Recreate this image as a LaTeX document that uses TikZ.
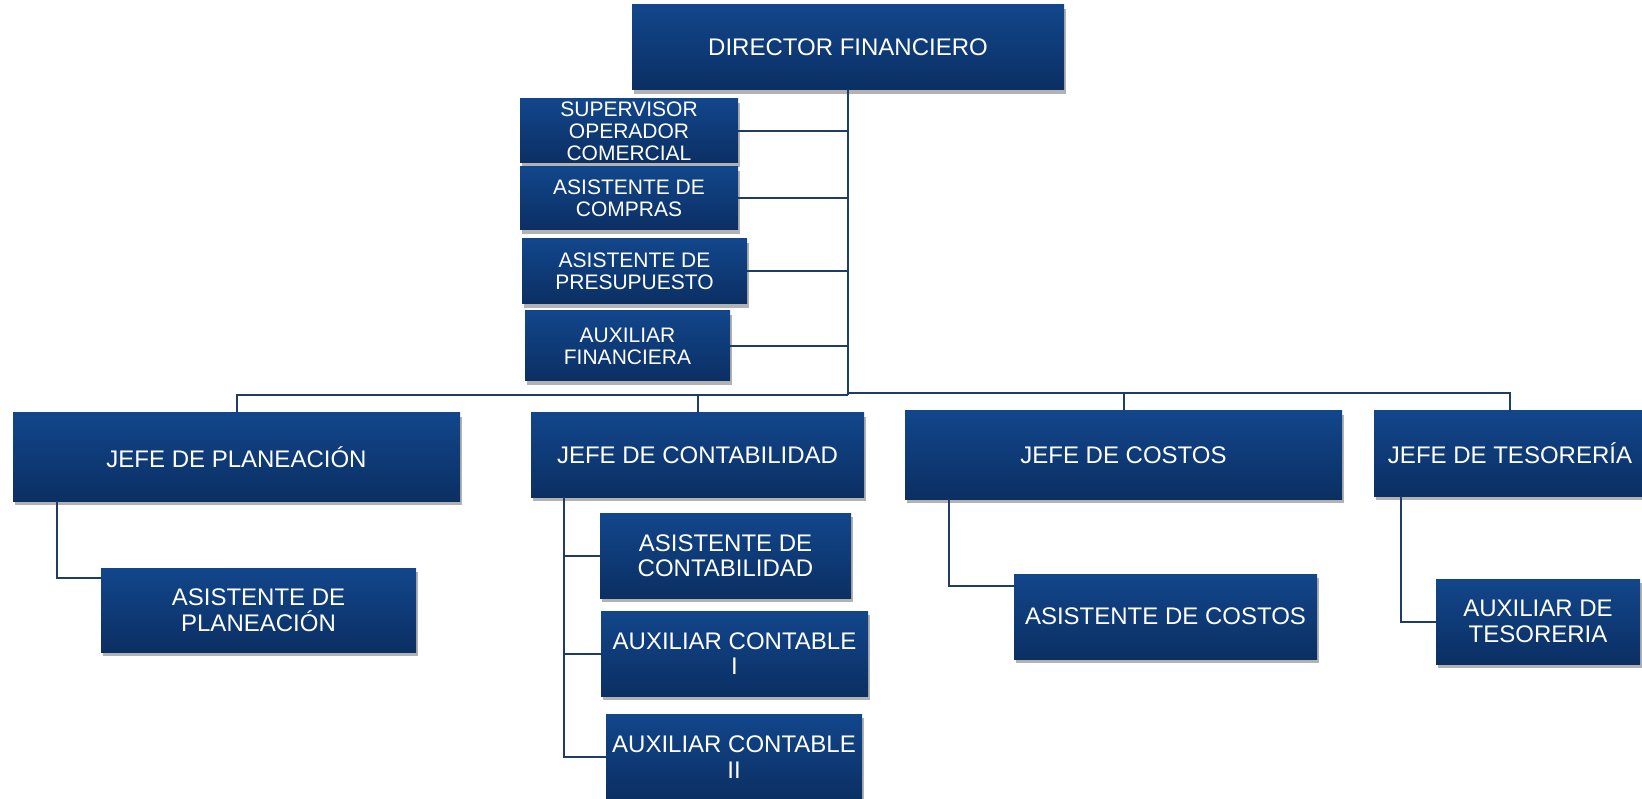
\documentclass[tikz,border=0pt]{standalone}
\usepackage{fontspec}
\setmainfont{Liberation Sans}
\usepackage{tikz}
\usetikzlibrary{calc,shadows}

\definecolor{boxtop}{RGB}{18,70,139}
\definecolor{boxbot}{RGB}{11,47,99}
\definecolor{linkblue}{RGB}{31,59,104}

\begin{document}
\begin{tikzpicture}[x=1pt,y=-1pt]
    \tikzset{box/.style = {shape=rectangle, inner sep=0pt, align=center,
        top color=boxtop, bottom color=boxbot, text=white,
        font=\fontsize{24pt}{25.5pt}\selectfont,
        drop shadow={shadow xshift=2pt, shadow yshift=-4pt, opacity=0.3, fill=black}}}
    \tikzset{small/.style = {font=\fontsize{21pt}{22pt}\selectfont}}
    \tikzset{link/.style = {draw=linkblue, line width=2pt}}
    \useasboundingbox (0,0) rectangle (1642,799);
    % vertices
    \node[box, minimum width=432pt, minimum height=85pt] (dir) at (848,47.5) {DIRECTOR FINANCIERO};
    \node[box, small, minimum width=218pt, minimum height=64pt] (sup) at (629,131)
        {\fontsize{21pt}{20.8pt}\selectfont SUPERVISOR\\OPERADOR\\COMERCIAL};
    \node[box, small, minimum width=218pt, minimum height=63pt] (comp) at (629,198.5) {ASISTENTE DE\\COMPRAS};
    \node[box, small, minimum width=225pt, minimum height=65pt] (pres) at (634.5,271.5) {ASISTENTE DE\\PRESUPUESTO};
    \node[box, small, minimum width=205pt, minimum height=70pt] (auxfin) at (627.5,346) {AUXILIAR\\FINANCIERA};
    \node[box, minimum width=447pt, minimum height=88pt] (jplan) at (236.5,457) {JEFE DE PLANEACIÓN};
    \node[box, minimum width=315pt, minimum height=84pt] (aplan) at (258.5,610) {ASISTENTE DE\\PLANEACIÓN};
    \node[box, minimum width=333pt, minimum height=84pt] (jcont) at (697.5,455) {JEFE DE CONTABILIDAD};
    \node[box, minimum width=251pt, minimum height=85pt] (acont) at (725.5,555.5) {ASISTENTE DE\\CONTABILIDAD};
    \node[box, minimum width=267pt, minimum height=85pt] (aux1) at (734.5,653.5) {AUXILIAR CONTABLE\\I};
    \node[box, minimum width=256pt, minimum height=86pt] (aux2) at (734,757) {AUXILIAR CONTABLE\\II};
    \node[box, minimum width=437pt, minimum height=88pt] (jcos) at (1123.5,455) {JEFE DE COSTOS};
    \node[box, minimum width=303pt, minimum height=85pt] (acos) at (1165.5,616.5) {ASISTENTE DE COSTOS};
    \node[box, minimum width=272pt, minimum height=85pt] (jtes) at (1510,453.5) {JEFE DE TESORERÍA};
    \node[box, minimum width=204pt, minimum height=85pt] (ates) at (1538,621.5) {AUXILIAR DE\\TESORERIA};
    % joints
    \coordinate (hub) at (848,395.5);
    \coordinate (hubR) at (848,393.5);
    \coordinate (cv) at ($(jcont.south west)+(33,0)$);
    %edges
    \draw[link] (dir.south) -- (hub);
    \draw[link] (sup.east) -- (sup.east -| dir.south);
    \draw[link] (comp.east) -- (comp.east -| dir.south);
    \draw[link] (pres.east) -- (pres.east -| dir.south);
    \draw[link] (auxfin.east) -- (auxfin.east -| dir.south);
    \draw[link] (jplan.north) |- (hub);
    \draw[link] (jcont.north) -- (jcont.north |- hub);
    \draw[link] (hubR) -| (jtes.north);
    \draw[link] (jcos.north) -- (jcos.north |- hubR);
    \draw[link] ($(jplan.south west)+(44,0)$) |- ($(aplan.north west)+(0,10)$);
    \draw[link] (cv) |- (aux2.west);
    \draw[link] (acont.west) -- (acont.west -| cv);
    \draw[link] (aux1.west) -- (aux1.west -| cv);
    \draw[link] ($(jcos.south west)+(44,0)$) |- ($(acos.north west)+(0,12)$);
    \draw[link] ($(jtes.south west)+(27,0)$) |- (ates.west);
\end{tikzpicture}
\end{document}
